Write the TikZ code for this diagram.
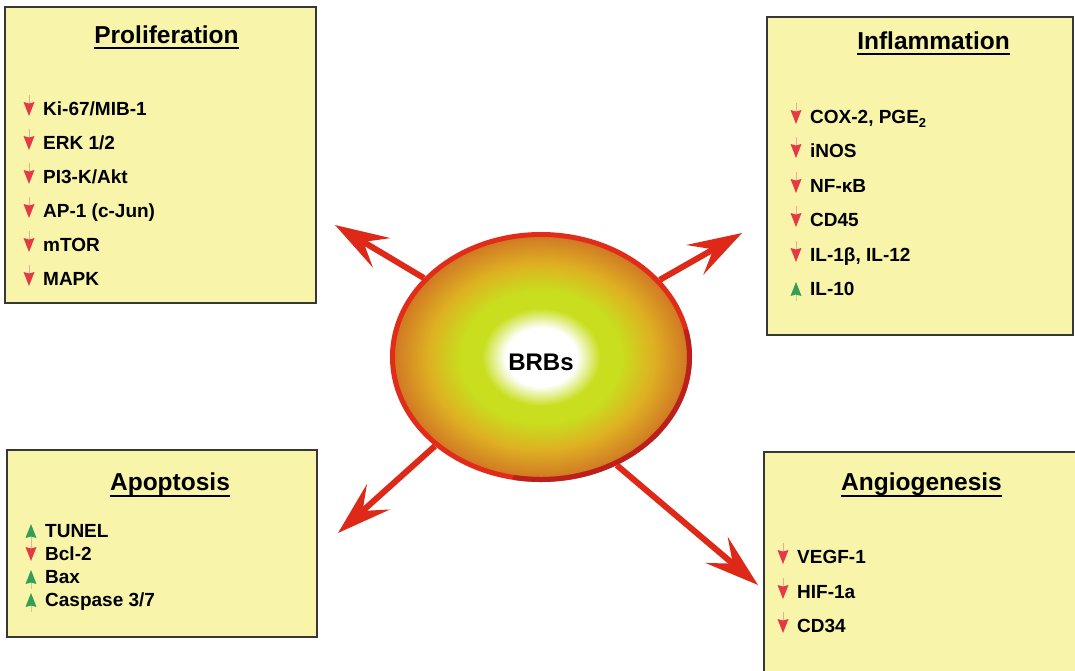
\documentclass[tikz,border=0pt]{standalone}
\usepackage{fontspec}
\setmainfont{Liberation Sans}
\usetikzlibrary{arrows.meta,shapes.geometric}

\definecolor{boxfill}{RGB}{248,244,170}
\definecolor{boxedge}{RGB}{55,55,55}
\definecolor{dncol}{RGB}{228,58,68}
\definecolor{upcol}{RGB}{52,158,84}
\definecolor{stemdn}{RGB}{240,170,150}
\definecolor{stemup}{RGB}{190,210,150}
\definecolor{shaftred}{RGB}{222,40,24}
\definecolor{rimred}{RGB}{226,44,26}
\definecolor{rimdark}{RGB}{172,28,28}
\definecolor{glowlime}{RGB}{200,222,30}
\definecolor{glowamber}{RGB}{222,176,34}
\definecolor{glowrim}{RGB}{208,118,36}

\pgfdeclareradialshading{brbglow}{\pgfpoint{0bp}{0bp}}{%
  color(0bp)=(white); color(6bp)=(white); color(10bp)=(glowlime);
  color(13.5bp)=(glowlime); color(19bp)=(glowamber); color(25bp)=(glowrim);
  color(50bp)=(glowrim)}

\tikzset{
  panel/.style={draw=boxedge, line width=1.6pt, fill=boxfill},
  paneltitle/.style={anchor=base, inner sep=0pt,
    font=\fontsize{24.5}{24.5}\selectfont\bfseries},
  uline/.style={line width=2.4pt, black},
  entry/.style={anchor=base west, inner sep=0pt,
    font=\fontsize{19}{19}\selectfont\bfseries},
  bigarrow/.style={line width=6pt, shaftred,
    -{Stealth[length=54pt, width=34pt, inset=21pt]}},
}

% item with a red "decrease" marker: name, x, baseline y, text
\newcommand\brbdown[4]{%
  \node[entry] (#1) at (#2,#3) {#4};
  \draw[stemdn, line width=0.7pt] ([xshift=-14pt,yshift=20pt]#1.base west)
    -- ([xshift=-14pt,yshift=12pt]#1.base west);
  \fill[dncol] ([xshift=-19.5pt,yshift=13pt]#1.base west)
    -- ([xshift=-14pt,yshift=11.5pt]#1.base west)
    -- ([xshift=-8.5pt,yshift=13pt]#1.base west)
    -- ([xshift=-14pt,yshift=-1pt]#1.base west) -- cycle;
}
% item with a green "increase" marker: name, x, baseline y, text
\newcommand\brbup[4]{%
  \node[entry] (#1) at (#2,#3) {#4};
  \draw[stemup, line width=0.7pt] ([xshift=-14pt,yshift=1pt]#1.base west)
    -- ([xshift=-14pt,yshift=-6pt]#1.base west);
  \fill[upcol] ([xshift=-19.5pt,yshift=-1pt]#1.base west)
    -- ([xshift=-14pt,yshift=0.5pt]#1.base west)
    -- ([xshift=-8.5pt,yshift=-1pt]#1.base west)
    -- ([xshift=-14pt,yshift=13pt]#1.base west) -- cycle;
}

\begin{document}
\begin{tikzpicture}[x=1pt, y=-1pt]
\useasboundingbox (0,0) rectangle (1075,670);

% ---- panels ----
\begin{scope}
  \clip (0,0) rectangle (1075,670);
  \draw[panel] (5,7) rectangle (316,303);
  \draw[panel] (767,17) rectangle (1073,335);
  \draw[panel] (7,450) rectangle (317,637);
  \draw[panel] (764,452) rectangle (1090,690);
\end{scope}

% ---- panel titles ----
\node[paneltitle] (tprol) at (166.5,43) {Proliferation};
\draw[uline] ([yshift=-5pt]tprol.base west) -- ([yshift=-5pt]tprol.base east);
\node[paneltitle] (tinfl) at (933.5,49) {Inflammation};
\draw[uline] ([yshift=-5pt]tinfl.base west) -- ([yshift=-5pt]tinfl.base east);
\node[paneltitle] (tapop) at (170,490) {Apoptosis};
\draw[uline] ([yshift=-6pt]tapop.base west) -- ([yshift=-6pt]tapop.base east);
\node[paneltitle] (tangi) at (921.5,490) {Angiogenesis};
\draw[uline] ([yshift=-6pt]tangi.base west) -- ([yshift=-6pt]tangi.base east);

% ---- proliferation markers ----
\brbdown{p1}{43}{115}{Ki-67/MIB-1}
\brbdown{p2}{43}{149}{ERK 1/2}
\brbdown{p3}{43}{183}{PI3-K/Akt}
\brbdown{p4}{43}{217}{AP-1 (c-Jun)}
\brbdown{p5}{43}{251}{mTOR}
\brbdown{p6}{43}{285}{MAPK}

% ---- inflammation markers ----
\brbdown{i1}{810}{123}{COX-2, PGE\raisebox{-0.45ex}{\fontsize{13}{13}\selectfont 2}}
\brbdown{i2}{810}{157}{iNOS}
\brbdown{i3}{810}{192}{NF-κB}
\brbdown{i4}{810}{226}{CD45}
\brbdown{i5}{810}{261}{IL-1β, IL-12}
\brbup{i6}{810}{295}{IL-10}

% ---- apoptosis markers ----
\brbup{a1}{45}{537}{TUNEL}
\brbdown{a2}{45}{560}{Bcl-2}
\brbup{a3}{45}{583}{Bax}
\brbup{a4}{45}{606}{Caspase 3/7}

% ---- angiogenesis markers ----
\brbdown{g1}{797}{563}{VEGF-1}
\brbdown{g2}{797}{598}{HIF-1a}
\brbdown{g3}{797}{632}{CD34}

% ---- central body ----
\node[ellipse, minimum width=297pt, minimum height=245pt, inner sep=0pt,
      shading=brbglow, draw=rimred, line width=5pt] (brb) at (541,357) {};
% darker rim on the lower right
\begin{scope}[shift={(brb.center)}, x=1pt, y=1pt]
  \draw[rimdark, line width=5pt, opacity=0.7, line cap=round]
    (12:148.5 and 122.5) arc[start angle=12, end angle=-100,
                              x radius=148.5, y radius=122.5];
\end{scope}
\node[font=\fontsize{24}{24}\selectfont\bfseries] (brbtext) at (541,362) {BRBs};

% ---- arrows out of the body ----
\coordinate (tipnw) at (335,225);
\coordinate (tipne) at (742,233);
\coordinate (tipsw) at (338,533);
\coordinate (tipse) at (758,585);
\draw[bigarrow] (brb.146.5) -- (tipnw);
\draw[bigarrow] (brb.33) -- (tipne);
\draw[bigarrow] (brb.220) -- (tipsw);
\draw[bigarrow] (brb.-55.6) -- (tipse);
\end{tikzpicture}
\end{document}
